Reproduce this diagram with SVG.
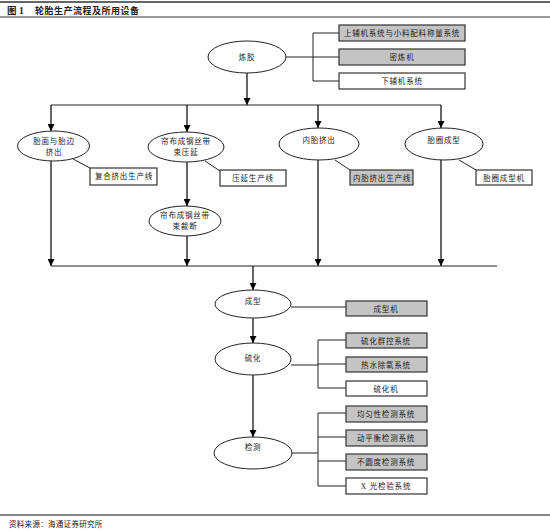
<svg xmlns="http://www.w3.org/2000/svg" width="550" height="531" viewBox="0 0 550 531">
<defs>
<marker id="ah" viewBox="0 0 8 8" refX="8" refY="4" markerWidth="7" markerHeight="7" markerUnits="userSpaceOnUse" orient="auto">
<path d="M0,0 L8,4 L0,8 z" fill="#000"/>
</marker>
<style>
text{font-family:"Liberation Serif","Noto Sans CJK SC",serif;fill:#222}
.t{font-size:7.5px;letter-spacing:0.8px;text-anchor:middle}
.e{fill:#fff;stroke:#222;stroke-width:1}
.bw{fill:#fff;stroke:#333;stroke-width:1.2}
.bg{fill:#c4c4c4;stroke:#333;stroke-width:1.2}
.l{stroke:#222;stroke-width:1;fill:none}
.a{stroke:#000;stroke-width:1.2;fill:none;marker-end:url(#ah)}
</style>
</defs>
<rect width="550" height="531" fill="#fff"/>
<line x1="0" y1="2" x2="550" y2="2" stroke="#333" stroke-width="1.5"/>
<text x="7" y="14" style="font-size:9.5px;font-weight:bold">图 1</text>
<text x="35" y="14" style="font-size:9px;font-weight:bold;letter-spacing:0.5px">轮胎生产流程及所用设备</text>
<line x1="0" y1="17" x2="550" y2="17" stroke="#333" stroke-width="1"/>
<line x1="0" y1="515" x2="550" y2="515" stroke="#888" stroke-width="2"/>
<text x="9" y="527" style="font-size:7.5px;letter-spacing:0.3px">资料来源：海通证券研究所</text>

<g id="connectors">
<path class="a" d="M247,73 V105"/>
<path class="l" d="M51,105 H441"/>
<path class="a" d="M51,105 V131"/>
<path class="a" d="M187,105 V132"/>
<path class="a" d="M318,105 V128"/>
<path class="a" d="M441,105 V128"/>
<path class="a" d="M51,161 V266"/>
<path class="a" d="M187,162 V206"/>
<path class="a" d="M187,236 V266"/>
<path class="a" d="M318,160 V266"/>
<path class="a" d="M441,160 V266"/>
<path class="l" d="M51,266 H497"/>
<path class="a" d="M253,266 V290"/>
<path class="a" d="M253,317 V343"/>
<path class="a" d="M253,375 V437"/>
<path class="l" d="M73,159 L90,168"/>
<path class="l" d="M205,161 L220,171"/>
<path class="l" d="M335,160 L350,170"/>
<path class="l" d="M459,160 L476,170"/>
<path class="l" d="M286,57 H313 M313,33 V81 M313,33 H339 M313,57 H339 M313,81 H339"/>
<path class="l" d="M291,307 H346"/>
<path class="l" d="M291,365 H318 M318,340 V388 M318,340 H346 M318,364 H346 M318,388 H346"/>
<path class="l" d="M292,453 H318 M318,413 V486 M318,413 H346 M318,437 H346 M318,461 H346 M318,486 H346"/>
</g>

<g id="n-lianjiao"><ellipse class="e" cx="247" cy="57" rx="39" ry="16"/><text class="t" x="247" y="60">炼胶</text></g>
<g id="b-shangfu"><rect class="bg" x="339" y="25" width="126" height="16"/><text class="t" x="402" y="36">上辅机系统与小料配料称量系统</text></g>
<g id="b-milian"><rect class="bg" x="339" y="49" width="126" height="16"/><text class="t" x="402" y="60">密炼机</text></g>
<g id="b-xiafu"><rect class="bw" x="339" y="73" width="126" height="16"/><text class="t" x="402" y="84">下辅机系统</text></g>

<g id="n-taimian"><ellipse class="e" cx="53.5" cy="146" rx="36" ry="15"/><text class="t" x="54" y="144">胎面与胎边</text><text class="t" x="54" y="155">挤出</text></g>
<g id="b-fuhe"><rect class="bw" x="90" y="168" width="67" height="17"/><text class="t" x="124" y="179">复合挤出生产线</text></g>

<g id="n-lianbu"><ellipse class="e" cx="186" cy="147" rx="38" ry="15"/><text class="t" x="186" y="144">帘布成钢丝带</text><text class="t" x="186" y="155">束压延</text></g>
<g id="b-yayan"><rect class="bw" x="220" y="170" width="66" height="16"/><text class="t" x="253" y="181">压延生产线</text></g>

<g id="n-caiduan"><ellipse class="e" cx="185" cy="221" rx="36" ry="15"/><text class="t" x="185" y="218">帘布成钢丝带</text><text class="t" x="185" y="229">束裁断</text></g>

<g id="n-neitai"><ellipse class="e" cx="319" cy="144" rx="40" ry="16"/><text class="t" x="319" y="143">内胎挤出</text></g>
<g id="b-neitai"><rect class="bg" x="350" y="170" width="63" height="15"/><text class="t" x="382" y="181">内胎挤出生产线</text></g>

<g id="n-taiquan"><ellipse class="e" cx="444" cy="144" rx="39" ry="16"/><text class="t" x="444" y="143">胎圈成型</text></g>
<g id="b-taiquan"><rect class="bw" x="476" y="170" width="56" height="15"/><text class="t" x="504" y="181">胎圈成型机</text></g>

<g id="n-chengxing"><ellipse class="e" cx="253" cy="304" rx="38" ry="14"/><text class="t" x="253" y="304">成型</text></g>
<g id="b-chengxing"><rect class="bg" x="346" y="301" width="81" height="15"/><text class="t" x="386" y="312">成型机</text></g>

<g id="n-liuhua"><ellipse class="e" cx="253" cy="359" rx="38" ry="16"/><text class="t" x="253" y="361">硫化</text></g>
<g id="b-qunkong"><rect class="bg" x="346" y="333" width="81" height="15"/><text class="t" x="386" y="344">硫化群控系统</text></g>
<g id="b-reshui"><rect class="bg" x="346" y="357" width="81" height="15"/><text class="t" x="386" y="368">热水除氧系统</text></g>
<g id="b-liuhuaji"><rect class="bw" x="346" y="381" width="81" height="15"/><text class="t" x="386" y="392">硫化机</text></g>

<g id="n-jiance"><ellipse class="e" cx="253" cy="453" rx="39" ry="16"/><text class="t" x="253" y="450">检测</text></g>
<g id="b-junyun"><rect class="bg" x="346" y="406" width="81" height="16"/><text class="t" x="386" y="417">均匀性检测系统</text></g>
<g id="b-dongping"><rect class="bg" x="346" y="430" width="81" height="16"/><text class="t" x="386" y="441">动平衡检测系统</text></g>
<g id="b-buyuan"><rect class="bg" x="346" y="454" width="81" height="16"/><text class="t" x="386" y="465">不圆度检测系统</text></g>
<g id="b-xguang"><rect class="bw" x="346" y="478" width="81" height="16"/><text class="t" x="386" y="489">X 光检验系统</text></g>
</svg>
